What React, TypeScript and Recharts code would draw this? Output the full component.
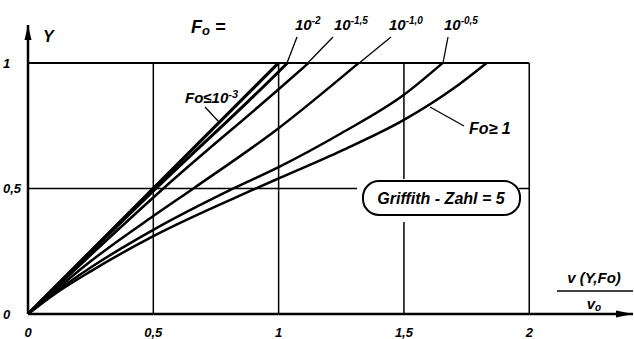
import { LineChart, Line, XAxis, YAxis, ReferenceLine, ReferenceDot } from 'recharts';

// v(Y,Fo)/v0 against Y for several Fourier numbers
const foMinV = [0, 0.5, 1.0];
const foMinY = [0, 0.5, 1.0];
const fo2V = [0, 0.5, 1.0, 1.035];
const fo2Y = [0, 0.49, 0.965, 1];
const fo15V = [0, 0.25, 0.54, 1.0, 1.12];
const fo15Y = [0, 0.235, 0.5, 0.895, 1];
const fo10V = [0, 0.25, 0.5, 0.66, 1.0, 1.32];
const fo10Y = [0, 0.21, 0.39, 0.5, 0.74, 1];
const fo05V = [0, 0.1, 0.25, 0.5, 0.82, 1.0, 1.25, 1.5, 1.655];
const fo05Y = [0, 0.08, 0.185, 0.335, 0.5, 0.585, 0.72, 0.873, 1];
const foMaxV = [0, 0.1, 0.25, 0.5, 0.91, 1.0, 1.25, 1.5, 1.7, 1.83];
const foMaxY = [0, 0.075, 0.17, 0.31, 0.5, 0.54, 0.65, 0.773, 0.9, 1];

const xTicks = [0, 0.5, 1, 1.5, 2];
const yTicks = [0, 0.5, 1];
const xMax = 2.414;
const yMax = 1.151;

const zip = (xs: number[], ys: number[]) => xs.map((x, i) => ({ x, y: ys[i] }));

const curves = [
    { name: 'Fo<=1e-3', data: zip(foMinV, foMinY), width: 3.2 },
    { name: '1e-2', data: zip(fo2V, fo2Y), width: 3 },
    { name: '1e-1.5', data: zip(fo15V, fo15Y), width: 2.5 },
    { name: '1e-1.0', data: zip(fo10V, fo10Y), width: 2.5 },
    { name: '1e-0.5', data: zip(fo05V, fo05Y), width: 2.5 },
    { name: 'Fo>=1', data: zip(foMaxV, foMaxY), width: 2.5 },
];

const font = {
    fontFamily: '"Liberation Sans", Arial, sans-serif',
    fontStyle: 'italic' as const,
    fontWeight: 700,
    fill: '#000',
};

const fmt = (v: number) => String(v).replace('.', ',');

const XTick = (props: any) => (
    <text x={props.x} y={props.y + 15} textAnchor="middle" fontSize={13} {...font}>
        {fmt(props.payload.value)}
    </text>
);

const YTick = (props: any) => (
    <text x={3} y={props.y + 5} textAnchor="start" fontSize={13} {...font}>
        {fmt(props.payload.value)}
    </text>
);

const UpArrow = (p: any) => (
    <polygon points={`${p.cx},${p.cy} ${p.cx - 3.5},${p.cy + 15} ${p.cx + 3.5},${p.cy + 15}`} fill="#000" />
);
const RightArrow = (p: any) => (
    <polygon points={`${p.cx},${p.cy} ${p.cx - 17},${p.cy - 3.5} ${p.cx - 17},${p.cy + 3.5}`} fill="#000" />
);

function Pow({ x, y, exp }: { x: number; y: number; exp: string }) {
    return (
        <text x={x} y={y} fontSize={15} {...font}>
            10
            <tspan fontSize={10} dy={-6}>{exp}</tspan>
        </text>
    );
}

export default function App() {
    return (
        <div style={{ position: 'absolute', left: 0, top: 0, width: 634, height: 339, background: '#fff' }}>
            <LineChart width={634} height={339} margin={{ top: 25, right: 1, left: 0, bottom: 0 }}>
                <XAxis
                    type="number"
                    dataKey="x"
                    domain={[0, xMax]}
                    allowDataOverflow
                    ticks={xTicks}
                    height={25}
                    tick={<XTick />}
                    tickLine={false}
                    axisLine={{ stroke: '#000', strokeWidth: 2.5 }}
                />
                <YAxis
                    type="number"
                    dataKey="y"
                    domain={[0, yMax]}
                    allowDataOverflow
                    ticks={yTicks}
                    width={28}
                    tick={<YTick />}
                    tickLine={false}
                    axisLine={{ stroke: '#000', strokeWidth: 2.5 }}
                />
                {xTicks.filter((t) => t > 0).map((t) => (
                    <ReferenceLine key={`vx-${t}`} segment={[{ x: t, y: 0 }, { x: t, y: 1 }]} stroke="#000" strokeWidth={1.5} />
                ))}
                {yTicks.filter((t) => t > 0).map((t) => (
                    <ReferenceLine key={`hy-${t}`} segment={[{ x: 0, y: t }, { x: 2, y: t }]} stroke="#000" strokeWidth={t === 1 ? 2 : 1.5} />
                ))}
                {curves.map((c) => (
                    <Line
                        key={c.name}
                        data={c.data}
                        dataKey="y"
                        type="monotone"
                        stroke="#000"
                        strokeWidth={c.width}
                        dot={false}
                        isAnimationActive={false}
                    />
                ))}
                <ReferenceDot x={0} y={yMax} r={0} ifOverflow="visible" shape={<UpArrow />} />
                <ReferenceDot x={xMax} y={0} r={0} ifOverflow="visible" shape={<RightArrow />} />
            </LineChart>
            <svg width={634} height={339} style={{ position: 'absolute', left: 0, top: 0, pointerEvents: 'none' }}>
                <text x={43} y={42} fontSize={16} {...font}>Y</text>

                <text x={191} y={33} fontSize={18} {...font}>
                    F<tspan fontSize={13} dy={2}>o</tspan>
                    <tspan dy={-2}> =</tspan>
                </text>
                <Pow x={295} y={30} exp="-2" />
                <Pow x={334} y={30} exp="-1,5" />
                <Pow x={389} y={30} exp="-1,0" />
                <Pow x={444} y={30} exp="-0,5" />
                <g stroke="#000" strokeWidth={1.3}>
                    <line x1={297} y1={37} x2={287} y2={63} />
                    <line x1={333} y1={37} x2={300} y2={71} />
                    <line x1={391} y1={37} x2={358} y2={64} />
                    <line x1={448} y1={37} x2={443} y2={63} />
                    <line x1={205} y1={107} x2={219} y2={122} />
                    <line x1={430} y1={107} x2={464} y2={126} />
                </g>

                <text x={185} y={103} fontSize={15} {...font}>
                    Fo≤10<tspan fontSize={11} dy={-5}>-3</tspan>
                </text>
                <text x={469} y={134} fontSize={16} {...font}>Fo≥ 1</text>

                <rect x={357} y={179} width={162} height={43} fill="#fff" />
                <rect x={363} y={181} width={157} height={34} rx={16} ry={16} fill="#fff" stroke="#000" strokeWidth={2} />
                <text x={441} y={204} textAnchor="middle" fontSize={16} {...font}>Griffith - Zahl = 5</text>

                <text x={594} y={283} textAnchor="middle" fontSize={15} {...font}>v (Y,Fo)</text>
                <line x1={557} y1={291} x2={633} y2={291} stroke="#000" strokeWidth={1.5} />
                <text x={594} y={309} textAnchor="middle" fontSize={15} {...font}>
                    v<tspan fontSize={10} dy={2}>o</tspan>
                </text>
            </svg>
        </div>
    );
}
